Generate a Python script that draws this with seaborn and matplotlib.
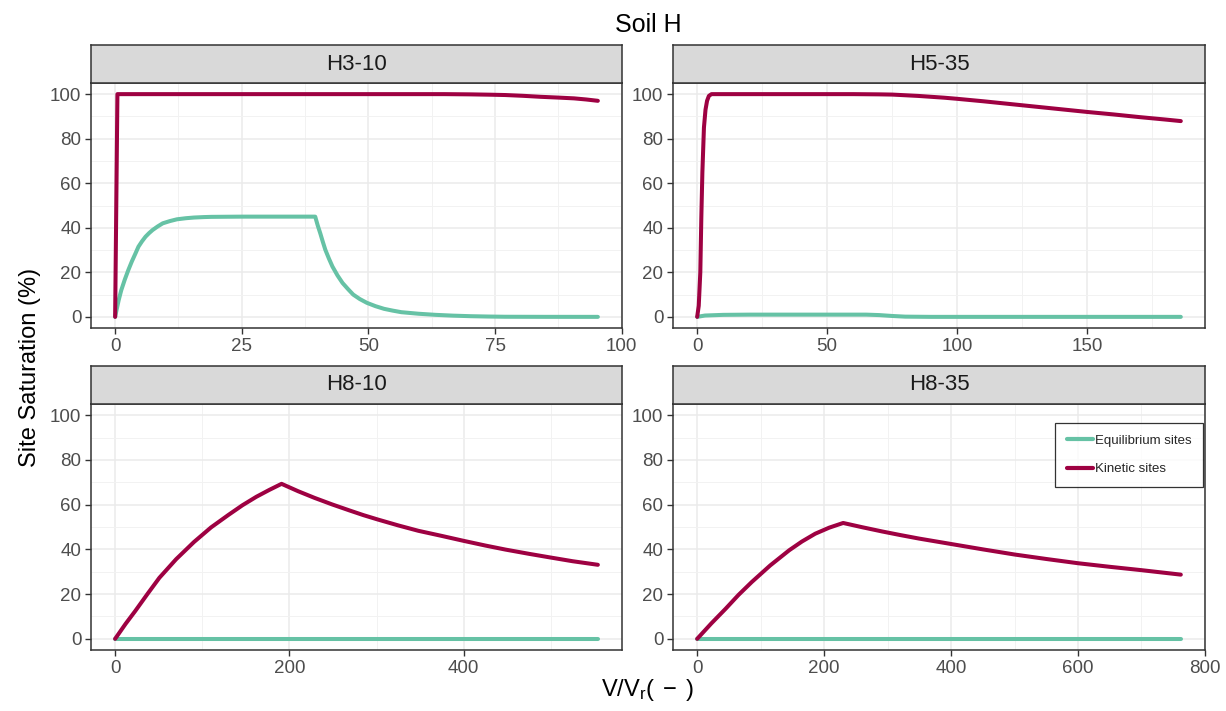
import numpy as np
import pandas as pd
import matplotlib
matplotlib.use("Agg")
import matplotlib.pyplot as plt
import seaborn as sns
from matplotlib.ticker import MultipleLocator

# ---------------- data ----------------
panels = ["H3-10", "H5-35", "H8-10", "H8-35"]
series_names = ["Equilibrium sites", "Kinetic sites"]
series_colors = ["#66C2A5", "#9E0142"]
x_major_step = [25, 50, 200, 200]
y_ticks = [0, 20, 40, 60, 80, 100]

h310_eq_x = [0, 0.3, 0.7, 1.2, 1.9, 2.6, 3.3, 4.0, 4.6, 5.3, 6.0, 6.7, 7.4, 8.4, 9.4,
             10.8, 12.2, 14.0, 15.6, 17.5, 19.0, 25.0, 39.5,
             40.0, 40.5, 41.0, 41.5, 42.2, 42.9, 43.9, 44.9, 46.0, 47.0, 48.3, 49.7,
             51.4, 53.1, 54.8, 56.5, 59.9, 63.3, 66.7, 70.2, 73.6, 77.0, 85.0, 95.3]
h310_eq_y = [0, 3.3, 7.5, 11.9, 16.7, 21.0, 24.9, 28.4, 31.5, 33.9, 36.0, 37.6, 39.0,
             40.6, 42.0, 43.0, 43.8, 44.3, 44.6, 44.8, 44.9, 45.0, 45.0,
             41.0, 37.5, 33.7, 30.1, 26.2, 22.6, 18.6, 15.2, 12.4, 10.0, 8.0, 6.3,
             4.8, 3.6, 2.8, 2.1, 1.4, 0.9, 0.55, 0.3, 0.15, 0.05, 0.01, 0]
h310_kin_x = [0, 0.45, 60, 65, 70, 74, 77, 80.5, 84, 87.5, 90.6, 93, 95.3]
h310_kin_y = [0, 100, 100, 100, 99.9, 99.75, 99.6, 99.25, 98.8, 98.45, 98.1, 97.6, 97.0]

h535_eq_x = [0, 3, 10, 20, 65, 70, 75, 80, 90, 186]
h535_eq_y = [0, 0.6, 0.9, 1.0, 1.0, 0.8, 0.4, 0.1, 0, 0]
h535_kin_x = [0, 0.6, 1.2, 1.6, 2.0, 2.6, 3.2, 3.8, 4.5, 5.5, 60, 70, 75, 80, 85, 90,
              95, 100, 110, 120, 130, 140, 150, 160, 170, 180, 186]
h535_kin_y = [0, 5, 20, 45, 65, 85, 93, 97, 99.2, 100, 100, 99.9, 99.8, 99.5, 99.2,
              98.8, 98.4, 97.9, 96.8, 95.6, 94.4, 93.2, 92.0, 90.9, 89.7, 88.6, 87.9]

h810_eq_x = [0, 554]
h810_eq_y = [0, 0]
h810_kin_x = [0, 12, 23, 37, 50.8, 70, 90.5, 110, 130, 146, 162, 177, 191,
              210, 229, 249, 269, 285, 301, 325, 348, 375, 400, 425, 448, 475, 499,
              525, 554]
h810_kin_y = [0, 6.7, 12.4, 20.0, 27.3, 35.6, 43.3, 49.8, 55.4, 59.7, 63.5, 66.6, 69.3,
              66.0, 63.0, 60.1, 57.4, 55.3, 53.4, 50.7, 48.3, 46.0, 43.8, 41.7, 39.9,
              38.0, 36.4, 34.7, 33.1]

h835_eq_x = [0, 762]
h835_eq_y = [0, 0]
h835_kin_x = [0, 22, 45, 65, 86, 115, 145, 165, 186, 208, 230,
              260, 291.5, 320, 350, 400, 450, 500, 550, 600, 650, 700, 762]
h835_kin_y = [0, 6.8, 13.5, 19.6, 25.4, 32.8, 39.6, 43.5, 47.0, 49.7, 51.8,
              49.9, 48.0, 46.4, 44.8, 42.4, 40.0, 37.7, 35.7, 33.8, 32.2, 30.7, 28.7]

eq_x = [h310_eq_x, h535_eq_x, h810_eq_x, h835_eq_x]
eq_y = [h310_eq_y, h535_eq_y, h810_eq_y, h835_eq_y]
kin_x = [h310_kin_x, h535_kin_x, h810_kin_x, h835_kin_x]
kin_y = [h310_kin_y, h535_kin_y, h810_kin_y, h835_kin_y]

rows = []
for i, p in enumerate(panels):
    for xv, yv in zip(eq_x[i], eq_y[i]):
        rows.append((p, series_names[0], xv, yv))
    for xv, yv in zip(kin_x[i], kin_y[i]):
        rows.append((p, series_names[1], xv, yv))
df = pd.DataFrame(rows, columns=["panel", "sites", "x", "y"])

# ---------------- style ----------------
sns.set_theme(style="white")
plt.rcParams["font.family"] = ["Liberation Sans", "DejaVu Sans"]
plt.rcParams["mathtext.fontset"] = "custom"
plt.rcParams["mathtext.rm"] = "Liberation Sans"
plt.rcParams["mathtext.it"] = "Liberation Sans:italic"
plt.rcParams["mathtext.default"] = "rm"

W, H = 1226, 711
fig = plt.figure(figsize=(W / 100, H / 100), dpi=100)
fig.patch.set_facecolor("white")

# pixel boxes: (left, right, strip_top, panel_top, panel_bottom)
boxes = [(91, 622, 45, 83, 328), (673, 1205, 45, 83, 328),
         (91, 622, 366, 404, 650), (673, 1205, 366, 404, 650)]

palette = dict(zip(series_names, series_colors))
dark = "#333333"

for i, p in enumerate(panels):
    l, r, st, pt, pb = boxes[i]
    ax = fig.add_axes([l / W, 1 - pb / H, (r - l) / W, (pb - pt) / H])
    sub = df[df.panel == p]
    sns.lineplot(data=sub, x="x", y="y", hue="sites", palette=palette,
                 hue_order=series_names, estimator=None, sort=False,
                 linewidth=2.9, ax=ax, legend=(i == 3))
    xmin, xmax = sub.x.min(), sub.x.max()
    rng = xmax - xmin
    ax.set_xlim(xmin - 0.05 * rng, xmax + 0.05 * rng)
    ax.set_ylim(-5, 105)
    step = x_major_step[i]
    ax.xaxis.set_major_locator(MultipleLocator(step))
    ax.xaxis.set_minor_locator(MultipleLocator(step / 2))
    ax.set_yticks(y_ticks)
    ax.yaxis.set_minor_locator(MultipleLocator(10))
    ax.grid(True, which="major", color="#EBEBEB", linewidth=1.1, zorder=0)
    ax.grid(True, which="minor", color="#F2F2F2", linewidth=0.7, zorder=0)
    ax.set_axisbelow(True)
    ax.tick_params(axis="both", which="major", length=4, width=1.0, color=dark,
                   labelsize=13.5, labelcolor="#4D4D4D", pad=3, direction="out",
                   bottom=True, left=True)
    ax.tick_params(axis="both", which="minor", length=0)
    for s in ax.spines.values():
        s.set_color(dark)
        s.set_linewidth(1.1)
    ax.set_xlabel("")
    ax.set_ylabel("")
    # strip
    sax = fig.add_axes([l / W, 1 - pt / H, (r - l) / W, (pt - st) / H])
    sax.set_facecolor("#D9D9D9")
    sax.set_xticks([])
    sax.set_yticks([])
    for s in sax.spines.values():
        s.set_color(dark)
        s.set_linewidth(1.1)
    sax.text(0.5, 0.5, p, ha="center", va="center", fontsize=16, color="#1A1A1A",
             transform=sax.transAxes)
    if i == 3:
        leg = ax.legend(title=None, loc="upper right",
                        bbox_to_anchor=(0.997, 1 - 19 / 246), fontsize=9.5,
                        frameon=True, fancybox=False, edgecolor="black",
                        borderpad=0.9, labelspacing=1.2, handlelength=2.0,
                        handletextpad=0.15, borderaxespad=0)
        leg.get_frame().set_linewidth(0.9)
        for line in leg.get_lines():
            line.set_linewidth(3.0)

fig.text(648 / W, 1 - 25 / H, "Soil H", ha="center", va="center", fontsize=18,
         color="black")
fig.text(30 / W, 1 - 367 / H, "Site Saturation (%)", ha="center", va="center",
         rotation=90, fontsize=17, color="black")
fig.text(648 / W, 1 - 690 / H, r"$\mathrm{V/V_r(\;-\;)}$", ha="center", va="center",
         fontsize=17, color="black")

fig.savefig("out.png", dpi=100)
